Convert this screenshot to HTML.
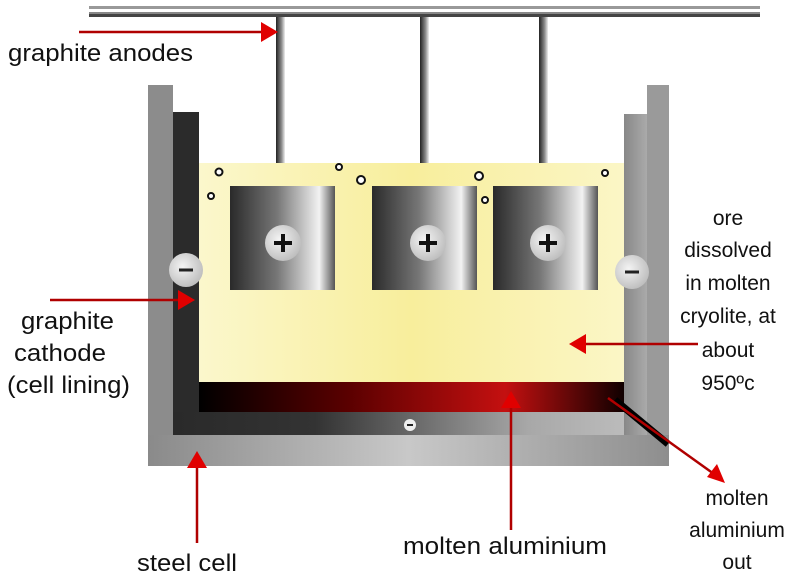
<!DOCTYPE html>
<html><head><meta charset="utf-8"><style>
html,body{margin:0;padding:0;background:#fff;width:800px;height:584px;overflow:hidden}
svg{display:block}
text{font-family:"Liberation Sans",Arial,sans-serif;font-size:21px;fill:#111}
.b{font-size:24px}
</style></head><body>
<svg width="800" height="584" viewBox="0 0 800 584">
<defs>
<linearGradient id="steel" x1="0" x2="1" y1="0" y2="0">
<stop offset="0" stop-color="#8a8a8a"/><stop offset="0.5" stop-color="#c8c8c8"/><stop offset="1" stop-color="#8e8e8e"/></linearGradient>
<linearGradient id="linb" x1="0" x2="1"><stop offset="0" stop-color="#2a2a2a"/><stop offset="0.3" stop-color="#333"/><stop offset="0.75" stop-color="#a8a8a8"/><stop offset="1" stop-color="#c0c0c0"/></linearGradient>
<linearGradient id="linr" x1="0" x2="1"><stop offset="0" stop-color="#888"/><stop offset="1" stop-color="#aaa"/></linearGradient>
<linearGradient id="yel" x1="0" x2="1"><stop offset="0" stop-color="#fbf7cc"/><stop offset="0.5" stop-color="#f8ee9c"/><stop offset="1" stop-color="#fbf6c6"/></linearGradient>
<linearGradient id="al" x1="0" x2="1"><stop offset="0" stop-color="#000"/><stop offset="0.35" stop-color="#5a0000"/><stop offset="0.72" stop-color="#c41010"/><stop offset="1" stop-color="#100000"/></linearGradient>
<linearGradient id="an" x1="0" x2="1"><stop offset="0" stop-color="#2a2a2a"/><stop offset="0.45" stop-color="#777"/><stop offset="0.85" stop-color="#f2f2f2"/><stop offset="1" stop-color="#555"/></linearGradient>
<linearGradient id="rod" x1="0" x2="1"><stop offset="0" stop-color="#222"/><stop offset="0.6" stop-color="#888"/><stop offset="1" stop-color="#eee"/></linearGradient>
<radialGradient id="btn" cx="0.4" cy="0.4" r="0.7"><stop offset="0" stop-color="#f4f4f4"/><stop offset="1" stop-color="#b8b8b8"/></radialGradient>
</defs>
<rect x="89" y="6" width="671" height="3" fill="#999"/>
<rect x="89" y="12" width="671" height="5" fill="#444"/>
<rect x="89" y="12" width="671" height="2" fill="#888"/>
<rect x="276" y="17" width="9" height="170" fill="url(#rod)"/>
<rect x="420" y="17" width="9" height="170" fill="url(#rod)"/>
<rect x="539" y="17" width="9" height="170" fill="url(#rod)"/>
<rect x="148" y="85" width="25" height="381" fill="#8c8c8c"/>
<rect x="647" y="85" width="22" height="381" fill="#9a9a9a"/>
<rect x="148" y="435" width="521" height="31" fill="url(#steel)"/>
<rect x="173" y="112" width="26" height="323" fill="#2b2b2b"/>
<rect x="173" y="412" width="474" height="23" fill="url(#linb)"/>
<rect x="624" y="114" width="23" height="321" fill="url(#linr)"/>
<rect x="199" y="163" width="425" height="219" fill="url(#yel)"/>
<rect x="199" y="382" width="425" height="30" fill="url(#al)"/>
<rect x="230" y="186" width="105" height="104" fill="url(#an)"/>
<rect x="372" y="186" width="105" height="104" fill="url(#an)"/>
<rect x="493" y="186" width="105" height="104" fill="url(#an)"/>
<g fill="url(#btn)"><circle cx="283" cy="243" r="18"/><circle cx="428" cy="243" r="18"/><circle cx="548" cy="243" r="18"/></g>
<g stroke="#111" stroke-width="4"><path d="M274 243h18M283 234v18M419 243h18M428 234v18M539 243h18M548 234v18"/></g>
<circle cx="186" cy="270" r="17" fill="url(#btn)"/><path d="M179 270h14" stroke="#222" stroke-width="3"/>
<circle cx="632" cy="272" r="17" fill="url(#btn)"/><path d="M625 272h14" stroke="#222" stroke-width="3"/>
<circle cx="410" cy="425" r="6" fill="#eee"/><path d="M407 425h6" stroke="#222" stroke-width="2"/>
<g fill="#fff" stroke="#111" stroke-width="2">
<circle cx="219" cy="172" r="3.5"/><circle cx="211" cy="196" r="3"/><circle cx="339" cy="167" r="3"/><circle cx="361" cy="180" r="4"/><circle cx="479" cy="176" r="4"/><circle cx="485" cy="200" r="3"/><circle cx="605" cy="173" r="3"/></g>
<path d="M615 400 L668 444" stroke="#000" stroke-width="7"/>
<g stroke="#b00000" stroke-width="2.5" fill="none">
<path d="M79 32H262"/><path d="M50 300H180"/><path d="M698 344H584"/><path d="M197 543V466"/><path d="M511 530V406"/><path d="M608 398L714 474"/></g>
<g fill="#e00000">
<path d="M278 32L261 22V42Z"/><path d="M195 300L178 290V310Z"/><path d="M569 344L586 334V354Z"/>
<path d="M197 451L187 468H207Z"/><path d="M511 391L501 408H521Z"/><path d="M725 483L707 477L717 464Z"/></g>
<text class="b" x="8" y="61" textLength="185" lengthAdjust="spacingAndGlyphs">graphite anodes</text>
<text class="b" x="21" y="329" textLength="93" lengthAdjust="spacingAndGlyphs">graphite</text>
<text class="b" x="14" y="361" textLength="92" lengthAdjust="spacingAndGlyphs">cathode</text>
<text class="b" x="7" y="393" textLength="123" lengthAdjust="spacingAndGlyphs">(cell lining)</text>
<text class="b" x="403" y="554" textLength="204" lengthAdjust="spacingAndGlyphs">molten aluminium</text>
<text class="b" x="137" y="571" textLength="100" lengthAdjust="spacingAndGlyphs">steel cell</text>
<g text-anchor="middle">
<text x="728" y="225">ore</text><text x="728" y="257">dissolved</text><text x="728" y="290">in molten</text><text x="728" y="323">cryolite, at</text><text x="728" y="357">about</text><text x="728" y="390">950ºc</text>
<text x="737" y="505">molten</text><text x="737" y="537">aluminium</text><text x="737" y="569">out</text>
</g>
</svg>
</body></html>
